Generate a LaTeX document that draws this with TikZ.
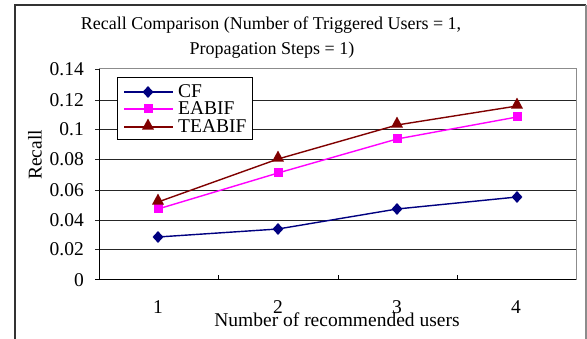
\documentclass[tikz,border=0pt]{standalone}
\usepackage{fontspec}
\setmainfont{Liberation Serif}
\usetikzlibrary{shapes.geometric}
\definecolor{cfc}{RGB}{0,0,128}
\definecolor{eac}{RGB}{255,0,255}
\definecolor{tec}{RGB}{128,0,0}
\begin{document}
\begin{tikzpicture}[x=1pt,y=-1pt,
  lbl/.style={font=\fontsize{19.5}{20}\selectfont, inner sep=0pt},
  ttl/.style={font=\fontsize{18}{20}\selectfont, inner sep=0pt, anchor=base},
  tight/.style={text height=11pt, text depth=2pt},
  grid/.style={draw=black!85, line width=0.9pt},
  ser/.style={line width=1.4pt},
  dmk/.style={diamond, fill=cfc, inner sep=0pt, minimum width=11pt, minimum height=12pt},
  smk/.style={rectangle, fill=eac, inner sep=0pt, minimum size=9pt},
  tmk/.style={isosceles triangle, shape border rotate=90, isosceles triangle stretches, fill=tec, inner sep=0pt, minimum width=12pt, minimum height=11pt}]
\useasboundingbox (0,0) rectangle (587,339);
\fill[white] (0,0) rectangle (587,339);
% outer frame
\draw[black!80, line width=1.2pt] (15,339) -- (15,5) -- (586,5);
\draw[black!45, line width=1.2pt] (586,5) -- (586,339);
% title
\node[ttl] (title1) at (271,30) {Recall Comparison (Number of Triggered Users = 1,};
\node[ttl] (title2) at (272,55) {Propagation Steps = 1)};
% gridlines
\foreach \yy in {100,129,159,190,220,249} \draw[grid] (95,\yy) -- (576,\yy);
\draw[black!45, line width=1pt] (99,69) -- (576,69) -- (576,280);
\draw[grid] (95,69) -- (99,69);
\draw[black, line width=1pt] (99,69) -- (99,280) -- (576,280);
\draw[black, line width=1pt] (95,280) -- (99,280);
\foreach \xx in {218,338,457} \draw[black, line width=1pt] (\xx,280) -- (\xx,275);
% y labels
\foreach \yy/\t in {69/0.14,100/0.12,129/0.1,159/0.08,190/0.06,220/0.04,249/0.02,280/0}
  \node[lbl, anchor=east] at (84,\yy) {\t};
% x labels
\foreach \xx/\t in {158/1,278/2,397/3,516/4}
  \node[lbl, anchor=base, text depth=0pt] at (\xx,314) {\t};
\node[lbl, anchor=base, text height=12pt] (xtitle) at (337,327) {Number of recommended users};
\node[lbl, rotate=90] (ytitle) at (35,155) {Recall};
% series
\draw[ser, cfc] (158,237) -- (278,229) -- (397,209) -- (517,197);
\draw[ser, eac] (158,209) -- (278,173) -- (397,139) -- (517,117);
\draw[ser, tec] (158,202) -- (278,159) -- (397,125) -- (517,106);
\foreach \xx/\yy in {158/237,278/229,397/209,517/197} \node[dmk] at (\xx,\yy) {};
\foreach \xx/\yy in {158/209,278/173,397/139,517/117} \node[smk] at (\xx,\yy) {};
\foreach \xx/\yy in {158/201,278/158,397/124,517/105} \node[tmk] at (\xx,\yy) {};
% legend
\draw[black, line width=0.9pt, fill=white] (117,77) rectangle (252,139);
\draw[ser, cfc] (124,92) -- (173,92);
\draw[ser, eac] (124,109) -- (173,109);
\draw[ser, tec] (124,127) -- (173,127);
\node[dmk] at (148,92) {};
\node[smk] at (148,109) {};
\node[tmk] at (148,126) {};
\node[lbl, tight, anchor=base west] (l1) at (178,98) {CF};
\node[lbl, tight, anchor=base west] (l2) at (178,115) {EABIF};
\node[lbl, tight, anchor=base west] (l3) at (178,133) {TEABIF};
\end{tikzpicture}
\end{document}
